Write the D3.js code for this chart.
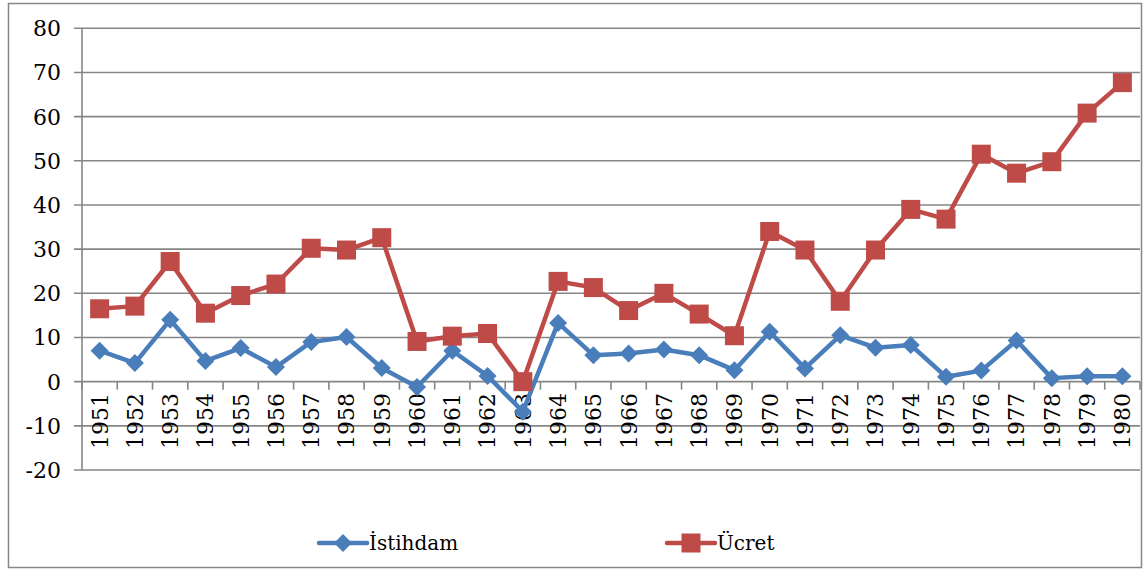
<!DOCTYPE html>
<html>
<head>
<meta charset="utf-8">
<script src="https://cdn.jsdelivr.net/npm/d3@7/dist/d3.min.js"></script>
<style>
  body { margin: 0; background: #fff; }
</style>
</head>
<body>
<svg id="chart" width="1144" height="569" font-family="'DejaVu Serif', serif"></svg>
<script>
var years = d3.range(1951, 1981).map(String);
var istihdam = [7.0, 4.2, 14.0, 4.7, 7.6, 3.3, 9.0, 10.1, 3.1, -1.2,
                7.0, 1.3, -6.8, 13.3, 6.0, 6.4, 7.3, 6.0, 2.6, 11.3,
                3.0, 10.5, 7.7, 8.3, 1.1, 2.5, 9.3, 0.8, 1.2, 1.2];
var ucret = [16.5, 17.1, 27.2, 15.5, 19.5, 22.1, 30.2, 29.8, 32.6, 9.1,
             10.3, 10.9, 0.0, 22.7, 21.3, 16.1, 20.0, 15.3, 10.4, 34.0,
             29.8, 18.2, 29.8, 39.0, 36.8, 51.5, 47.2, 49.8, 60.8, 67.7];
var yTicks = [-20, -10, 0, 10, 20, 30, 40, 50, 60, 70, 80];
var seriesNames = ["İstihdam", "Ücret"];

var grid = "#868686";
var blue = "#4A7EBB";
var red = "#BE4B48";
var tickSize = "22px";

var svg = d3.select("#chart");

// outer frame
svg.append("rect")
  .attr("x", 8.5).attr("y", 3.5)
  .attr("width", 1133).attr("height", 564)
  .attr("fill", "none").attr("stroke", grid).attr("stroke-width", 1.5);

var plotLeft = 82, plotRight = 1140, plotTop = 28.3, plotBottom = 470;

var x = d3.scaleBand().domain(years).range([plotLeft, plotRight]);
var y = d3.scaleLinear().domain([-20, 80]).range([plotBottom, plotTop]);

// horizontal gridlines
svg.selectAll("line.grid")
  .data(yTicks)
  .enter()
  .append("line")
  .attr("class", "grid")
  .attr("x1", plotLeft - 8).attr("x2", plotRight)
  .attr("y1", function(d) { return y(d); })
  .attr("y2", function(d) { return y(d); })
  .attr("stroke", grid).attr("stroke-width", 1.6);

// value axis
svg.append("line")
  .attr("x1", plotLeft).attr("x2", plotLeft)
  .attr("y1", plotTop).attr("y2", plotBottom)
  .attr("stroke", grid).attr("stroke-width", 1.6);

svg.selectAll("text.ytick")
  .data(yTicks)
  .enter()
  .append("text")
  .attr("class", "ytick")
  .attr("x", 61)
  .attr("y", function(d) { return y(d); })
  .attr("dy", "0.36em")
  .attr("text-anchor", "end")
  .attr("font-size", tickSize)
  .text(function(d) { return d; });

// category tick marks on the zero line
var bounds = years.map(function(d) { return x(d); }).concat([plotRight]);
svg.selectAll("line.xtick")
  .data(bounds)
  .enter()
  .append("line")
  .attr("class", "xtick")
  .attr("x1", function(d) { return d; })
  .attr("x2", function(d) { return d; })
  .attr("y1", y(0)).attr("y2", y(0) + 8)
  .attr("stroke", grid).attr("stroke-width", 1.6);

svg.selectAll("text.xtick")
  .data(years)
  .enter()
  .append("text")
  .attr("class", "xtick")
  .attr("transform", function(d) {
    return "translate(" + (x(d) + x.bandwidth() / 2) + "," + 393 + ") rotate(-90)";
  })
  .attr("dy", "0.36em")
  .attr("text-anchor", "end")
  .attr("font-size", tickSize)
  .text(function(d) { return d; });

function cx(i) { return x(years[i]) + x.bandwidth() / 2; }

var line = d3.line()
  .x(function(d, i) { return cx(i); })
  .y(function(d) { return y(d); });

function diamond(r) {
  return "M0," + (-r) + "L" + r + ",0L0," + r + "L" + (-r) + ",0Z";
}

svg.append("path")
  .datum(istihdam)
  .attr("d", line)
  .attr("fill", "none")
  .attr("stroke", blue).attr("stroke-width", 4.5)
  .attr("stroke-linejoin", "round");

svg.selectAll("path.dia")
  .data(istihdam)
  .enter()
  .append("path")
  .attr("class", "dia")
  .attr("d", diamond(9))
  .attr("transform", function(d, i) { return "translate(" + cx(i) + "," + y(d) + ")"; })
  .attr("fill", blue);

svg.append("path")
  .datum(ucret)
  .attr("d", line)
  .attr("fill", "none")
  .attr("stroke", red).attr("stroke-width", 4.5)
  .attr("stroke-linejoin", "round");

svg.selectAll("rect.sq")
  .data(ucret)
  .enter()
  .append("rect")
  .attr("class", "sq")
  .attr("x", function(d, i) { return cx(i) - 9.5; })
  .attr("y", function(d) { return y(d) - 9.5; })
  .attr("width", 19).attr("height", 19)
  .attr("fill", red);

// legend
var legY = 543;
var leg = [
  { name: seriesNames[0], color: blue, x: 319, marker: "dia" },
  { name: seriesNames[1], color: red, x: 667, marker: "sq" }
];
leg.forEach(function(l) {
  var g = svg.append("g").attr("transform", "translate(" + l.x + "," + legY + ")");
  g.append("line")
    .attr("x1", 0).attr("x2", 48)
    .attr("stroke", l.color).attr("stroke-width", 4.5)
    .attr("stroke-linecap", "round");
  if (l.marker === "dia") {
    g.append("path").attr("d", diamond(9)).attr("transform", "translate(24,0)").attr("fill", l.color);
  } else {
    g.append("rect").attr("x", 14.5).attr("y", -9.5).attr("width", 19).attr("height", 19).attr("fill", l.color);
  }
  g.append("text")
    .attr("x", 50).attr("y", 0).attr("dy", "0.36em")
    .attr("font-size", "20px")
    .text(l.name);
});
</script>
</body>
</html>
